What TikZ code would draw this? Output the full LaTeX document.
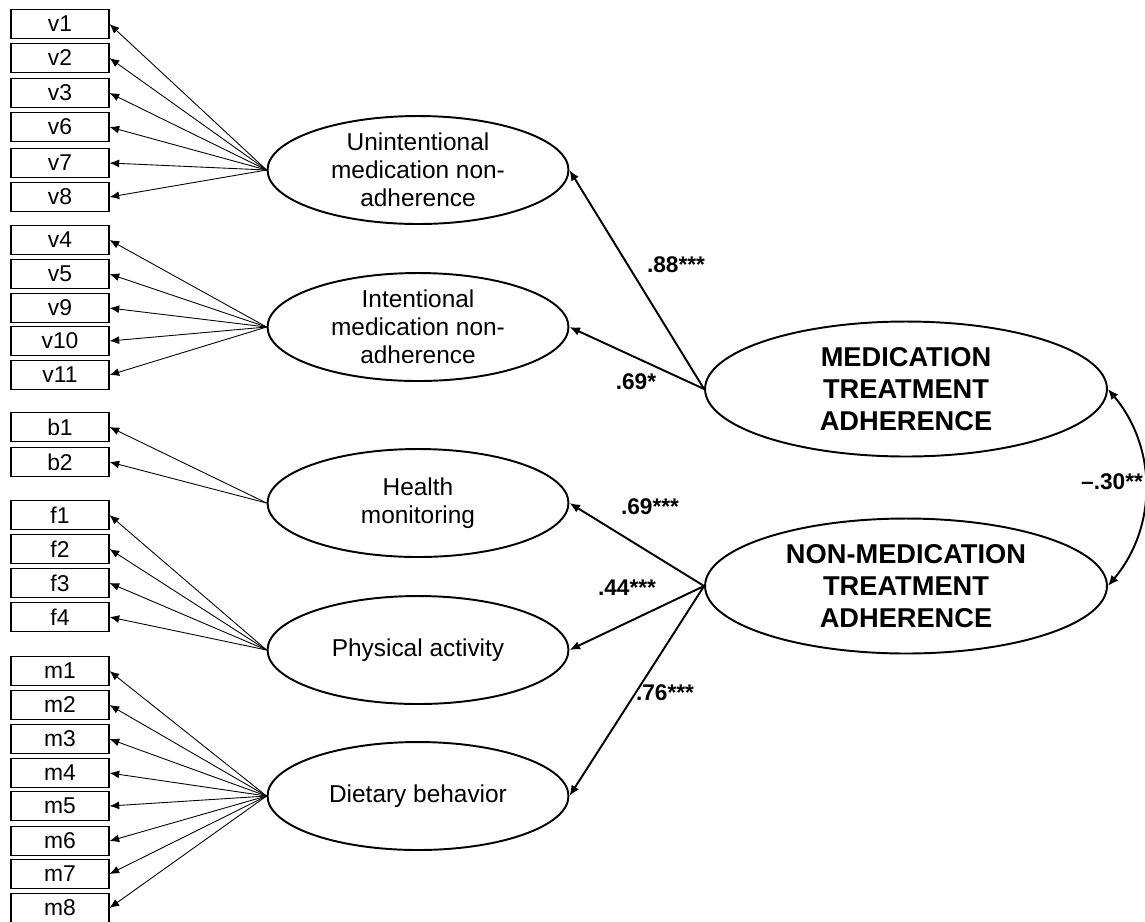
\documentclass[tikz,border=0pt]{standalone}
\usepackage{fontspec}
\setmainfont{Liberation Sans}
\usetikzlibrary{shapes.geometric,arrows.meta}

\begin{document}
\begin{tikzpicture}[x=0.02cm,y=-0.02cm,
    obs/.style={draw,line width=0.6pt,minimum width=1.96cm,minimum height=0.58cm,
      inner sep=0pt,font=\fontsize{13}{15}\selectfont},
    lat/.style={draw,ellipse,line width=1.1pt,minimum width=6.02cm,minimum height=2.16cm,
      inner sep=0pt,align=center,font=\fontsize{13.9}{16}\selectfont},
    big/.style={lat,minimum width=8.04cm,minimum height=2.7cm,
      font=\fontsize{15.5}{18.2}\selectfont\bfseries},
    load/.style={-{Latex[length=5.5pt,width=4.5pt]},line width=0.5pt},
    struct/.style={-{Latex[length=6pt,width=5pt]},line width=1.1pt},
    coef/.style={font=\fontsize{12.9}{15}\selectfont\bfseries}]
          \useasboundingbox (0,0) rectangle (1145,921);
          % indicators
          \foreach \n/\y in {v1/24,v2/58,v3/93,v6/127,v7/163,v8/197,
                             v4/240,v5/274,v9/308,v10/341,v11/375,
                             b1/427,b2/462,f1/515,f2/549,f3/583,f4/617,
                             m1/671,m2/705,m3/739,m4/773,m5/806,m6/841,m7/874,m8/908}{
            \node[obs] (\n) at (60,\y) {\n};}
          % first-order factors
          \node[lat] (unint) at (418,170) {Unintentional\\medication non-\\adherence};
          \node[lat] (inten) at (418,327) {Intentional\\medication non-\\adherence};
          \node[lat] (health) at (418,503) {Health\\monitoring};
          \node[lat] (phys) at (418,650) {Physical activity};
          \node[lat] (diet) at (418,796) {Dietary behavior};
          % second-order factors
          \node[big] (med) at (906,389) {MEDICATION\\TREATMENT\\ADHERENCE};
          \node[big] (nonmed) at (906,586) {NON-MEDICATION\\TREATMENT\\ADHERENCE};
          % loadings
          \foreach \v in {v1,v2,v3,v6,v7,v8}{
            \draw[load] (unint.west) -- (\v.east);}
          \foreach \v in {v4,v5,v9,v10,v11}{
            \draw[load] (inten.west) -- (\v.east);}
          \foreach \v in {b1,b2}{
            \draw[load] (health.west) -- (\v.east);}
          \foreach \v in {f1,f2,f3,f4}{
            \draw[load] (phys.west) -- (\v.east);}
          \foreach \v in {m1,m2,m3,m4,m5,m6,m7,m8}{
            \draw[load] (diet.west) -- (\v.east);}
          \draw[struct] (med.west) -- (unint.east);
          \draw[struct] (med.west) -- (inten.east);
          \draw[struct] (nonmed.west) -- (health.east);
          \draw[struct] (nonmed.west) -- (phys.east);
          \draw[struct] (nonmed.west) -- (diet.east);
          \draw[{Latex[length=6pt,width=5pt]}-{Latex[length=6pt,width=5pt]},line width=1.1pt]
            (med.east) to[bend left=40] (nonmed.east);
          % coefficients
          \node[coef] (c88) at (676,265) {.88***};
          \node[coef] (c69a) at (636,382) {.69*};
          \node[coef] (c69b) at (650,507) {.69***};
          \node[coef] (c44) at (627,588) {.44***};
          \node[coef] (c76) at (665,693) {.76***};
          \node[coef,anchor=west] (c30) at (1075,482) {--.30**};
        \end{tikzpicture}
\end{document}
